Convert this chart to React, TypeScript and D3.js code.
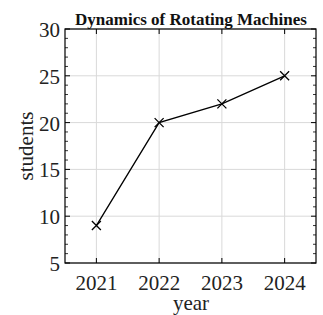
import React from "react";
import * as d3 from "d3";

const years = [2021, 2022, 2023, 2024];
const students = [9, 20, 22, 25];
const yTicks = [5, 10, 15, 20, 25, 30];
const title = "Dynamics of Rotating Machines";
const xLabel = "year";
const yLabel = "students";

export default function App() {
  const W = 323, H = 315;
  const L = 65, R = 316, T = 29, B = 263;
  const x = d3.scaleLinear().domain([2020.5, 2024.5]).range([L, R]);
  const y = d3.scaleLinear().domain([5, 30]).range([B, T]);
  const minor = d3.range(5, 30.01, 1).filter((v) => v % 5 !== 0);
  const line = d3.line<number>().x((_, i) => x(years[i])).y((d) => y(d));
  const font = "'Liberation Serif', 'DejaVu Serif', serif";
  const ms = 4.5;
  return (
    <svg width={W} height={H} style={{ position: "absolute", left: 0, top: 0 }} fontFamily={font}>
      <rect width={W} height={H} fill="white" />
      {years.map((v) => (
        <line key={"gx" + v} x1={x(v)} x2={x(v)} y1={T} y2={B} stroke="#d9d9d9" strokeWidth={1} />
      ))}
      {yTicks.map((v) => (
        <line key={"gy" + v} x1={L} x2={R} y1={y(v)} y2={y(v)} stroke="#d9d9d9" strokeWidth={1} />
      ))}
      {years.map((v) => (
        <g key={"tx" + v}>
          <line x1={x(v)} x2={x(v)} y1={B} y2={B - 5} stroke="black" strokeWidth={1} />
          <line x1={x(v)} x2={x(v)} y1={T} y2={T + 5} stroke="black" strokeWidth={1} />
          <text x={x(v)} y={B + 27} textAnchor="middle" fontSize={21} fill="#222">{v}</text>
        </g>
      ))}
      {yTicks.map((v) => (
        <g key={"ty" + v}>
          <line x1={L} x2={L + 5} y1={y(v)} y2={y(v)} stroke="black" strokeWidth={1} />
          <line x1={R} x2={R - 5} y1={y(v)} y2={y(v)} stroke="black" strokeWidth={1} />
          <text x={L - 5} y={y(v) + 8} textAnchor="end" fontSize={21} fill="#222">{v}</text>
        </g>
      ))}
      {minor.map((v) => (
        <g key={"my" + v}>
          <line x1={L} x2={L + 3} y1={y(v)} y2={y(v)} stroke="black" strokeWidth={0.8} />
          <line x1={R} x2={R - 3} y1={y(v)} y2={y(v)} stroke="black" strokeWidth={0.8} />
        </g>
      ))}
      <rect x={L} y={T} width={R - L} height={B - T} fill="none" stroke="black" strokeWidth={1.2} />
      <path d={line(students) || ""} fill="none" stroke="black" strokeWidth={1.3} />
      {students.map((d, i) => (
        <path
          key={"m" + i}
          d={`M${x(years[i]) - ms},${y(d) - ms}L${x(years[i]) + ms},${y(d) + ms}M${x(years[i]) - ms},${y(d) + ms}L${x(years[i]) + ms},${y(d) - ms}`}
          stroke="black"
          strokeWidth={1.3}
        />
      ))}
      <text x={191} y={T - 4} textAnchor="middle" fontSize={17} fontWeight="bold" fill="#111">{title}</text>
      <text x={191} y={310} textAnchor="middle" fontSize={21} fill="#222">{xLabel}</text>
      <text transform={`translate(33,${(T + B) / 2}) rotate(-90)`} textAnchor="middle" fontSize={21} fill="#222">{yLabel}</text>
    </svg>
  );
}
